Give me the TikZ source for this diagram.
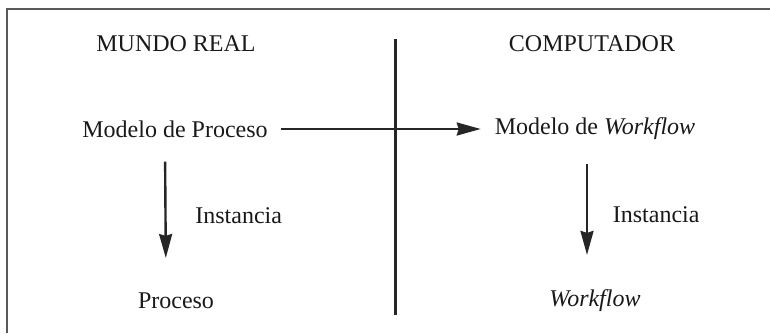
\documentclass[tikz,border=0pt]{standalone}
\usepackage{fontspec}
\setmainfont{Liberation Serif}
\usetikzlibrary{arrows.meta,positioning}

\begin{document}
\begin{tikzpicture}[x=0.5pt,y=-0.5pt,
    texto/.style={font=\fontsize{12}{14}\selectfont,text=black!90},
    flecha/.style={line width=1.2pt,black!85,-{Stealth[length=12pt,width=6.5pt,inset=1pt]}},
    marco/.style={line width=1.1pt,draw=black!65}]
  \useasboundingbox (0,0) rectangle (770,333);
  \draw[marco] (7,333) -- (7,9) -- (770,9);
  \node[texto] (real) at (176,44) {MUNDO REAL};
  \node[texto] (comp) at (592,44) {COMPUTADOR};
  \coordinate (divA) at (395,39);
  \coordinate (divB) at (395,315);
  \draw[line width=1.5pt,black!85] (divA) -- (divB);
  \node[texto] (mp) at (175,129) {Modelo de Proceso};
  \node[texto] (mw) at (595,129) {Modelo de \textit{Workflow}};
  \node[texto] (p) at (176,301) {Proceso};
  \node[texto] (w) at (595,301) {\textit{Workflow}};
  \draw[flecha, shorten <=3pt, shorten >=3.5pt] (mp.east) -- (mw.west);
  \draw[flecha, shorten <=8.5pt, shorten >=14pt] ([xshift=-5pt]mp.south) -- ([xshift=-5pt]p.north)
    node[texto, midway, right=11pt] (ia) {Instancia};
  \draw[flecha, shorten <=8.5pt, shorten >=14pt] ([xshift=-4pt]mw.south) -- ([xshift=-4pt]w.north)
    node[texto, midway, right=9pt] (ib) {Instancia};
\end{tikzpicture}
\end{document}
